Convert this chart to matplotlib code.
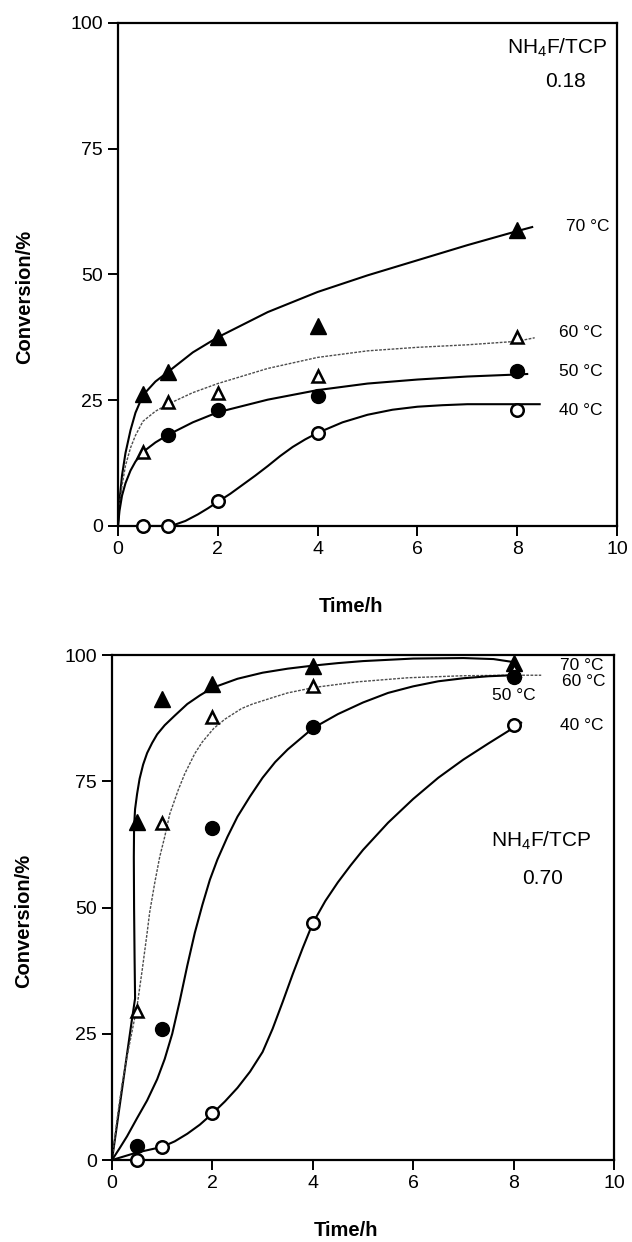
import matplotlib
matplotlib.use("Agg")
import matplotlib.pyplot as plt

plt.rcParams['font.family'] = ['Liberation Sans', 'DejaVu Sans']
plt.rcParams['mathtext.fontset'] = 'custom'
plt.rcParams['mathtext.rm'] = 'Liberation Sans'
plt.rcParams['mathtext.it'] = 'Liberation Sans'

times = [0.5, 1, 2, 4, 8]

# --- top panel, NH4F/TCP = 0.18 ---
top_70 = [26.2, 30.5, 37.5, 39.7, 58.8]
top_60 = [14.7, 24.6, 26.5, 29.8, 37.6]
top_50_t = [1, 2, 4, 8]
top_50 = [18.1, 23.0, 25.9, 30.7]
top_40 = [0, 0, 5.0, 18.5, 23.1]

# fitted curves
top_c70_x = [0, 0.03, 0.08, 0.15, 0.25, 0.35, 0.5, 0.75, 1.0, 1.5, 2.0, 3.0, 4.0, 5.0, 6.0, 7.0, 8.0, 8.3]
top_c70_y = [0, 5, 10, 14.5, 19, 22.5, 26, 28.7, 30.6, 34.5, 37.5, 42.5, 46.5, 49.8, 52.8, 55.8, 58.6, 59.4]
top_c60_x = [0, 0.03, 0.08, 0.15, 0.25, 0.35, 0.5, 0.75, 1.0, 1.5, 2.0, 3.0, 4.0, 5.0, 6.0, 7.0, 8.0, 8.35]
top_c60_y = [0, 4, 8, 12, 15.5, 18, 20.8, 22.8, 24.2, 26.5, 28.3, 31.3, 33.5, 34.8, 35.5, 36.0, 36.7, 37.4]
top_c50_x = [0, 0.03, 0.08, 0.15, 0.25, 0.35, 0.5, 0.75, 1.0, 1.5, 2.0, 3.0, 4.0, 5.0, 6.0, 7.0, 8.0, 8.2]
top_c50_y = [0, 3, 6, 8.5, 11, 12.8, 14.7, 16.6, 18.1, 20.6, 22.6, 25.1, 27.0, 28.3, 29.1, 29.7, 30.1, 30.2]
top_c40_x = [0.5, 1.0, 1.15, 1.35, 1.6, 1.8, 2.0, 2.25, 2.5, 2.75, 3.0, 3.25, 3.5, 3.75, 4.0,
             4.5, 5.0, 5.5, 6.0, 6.5, 7.0, 8.0, 8.45]
top_c40_y = [0, 0, 0.3, 1.0, 2.3, 3.5, 4.8, 6.4, 8.2, 10.0, 11.9, 13.9, 15.7, 17.2, 18.5,
             20.6, 22.1, 23.1, 23.7, 24.0, 24.2, 24.2, 24.2]

# --- bottom panel, NH4F/TCP = 0.70 ---
bot_70 = [67.0, 91.3, 94.2, 97.8, 98.5]
bot_60 = [29.5, 66.8, 87.8, 93.8, 97.0]
bot_50 = [2.8, 25.9, 65.7, 85.8, 95.7]
bot_40 = [0, 2.6, 9.4, 46.9, 86.2]

bot_c70_x = [0, 0.1, 0.2, 0.3, 0.4, 0.46, 0.45, 0.44, 0.435, 0.44, 0.46, 0.5, 0.55, 0.62, 0.7,
             0.8, 0.9, 1.05, 1.25, 1.5, 1.75, 2.0, 2.5, 3.0, 3.5, 4.0, 4.5, 5.0, 6.0, 7.0, 7.6, 8.0]
bot_c70_y = [0, 7, 14, 21, 28, 32, 40, 50, 60, 66, 69.5, 72.5, 75.5, 78.3, 80.6,
             82.6, 84.3, 86.1, 88.0, 90.3, 92.0, 93.5, 95.3, 96.5, 97.3, 97.9, 98.4, 98.8, 99.3, 99.4, 99.2, 98.6]
bot_c60_x = [0, 0.1, 0.2, 0.3, 0.4, 0.5, 0.6, 0.7, 0.75, 0.85, 0.95, 1.05, 1.15, 1.32, 1.45,
             1.65, 1.8, 2.03, 2.25, 2.58, 2.8, 3.24, 3.5, 4.04, 4.9, 5.9, 7.0, 8.0, 8.55]
bot_c60_y = [0, 8, 15, 20.5, 25.5, 30.5, 37.5, 45, 49, 54.8, 60, 64, 68.5, 73.3, 76.5,
             80.5, 82.8, 85.5, 87.3, 89.4, 90.3, 91.7, 92.5, 93.6, 94.7, 95.5, 95.9, 96.0, 96.0]
bot_c50_x = [0, 0.15, 0.3, 0.5, 0.7, 0.9, 1.05, 1.2, 1.35, 1.5, 1.65, 1.8, 1.95, 2.1, 2.3, 2.5,
             2.75, 3.0, 3.25, 3.5, 4.0, 4.5, 5.0, 5.5, 6.0, 6.5, 7.0, 7.5, 8.0]
bot_c50_y = [0, 2.3, 4.7, 8.3, 11.8, 16.0, 20.0, 25.0, 31.5, 38.5, 45.0, 50.5, 55.5, 59.5, 64.0, 68.0,
             72.0, 75.7, 78.8, 81.3, 85.5, 88.3, 90.6, 92.5, 93.8, 94.8, 95.4, 95.8, 96.0]
bot_c40_x = [0, 0.5, 1.0, 1.25, 1.5, 1.75, 2.0, 2.25, 2.5, 2.75, 3.0, 3.2, 3.4, 3.6, 3.8, 4.0,
             4.25, 4.5, 4.75, 5.0, 5.5, 6.0, 6.5, 7.0, 7.5, 8.0, 8.15]
bot_c40_y = [0, 1.5, 2.6, 3.7, 5.2, 7.0, 9.2, 11.6, 14.3, 17.5, 21.4, 26.0, 31.3, 36.8, 42.0, 46.9,
             51.3, 55.0, 58.3, 61.4, 66.8, 71.5, 75.7, 79.3, 82.5, 85.6, 86.6]

xticks = [0, 2, 4, 6, 8, 10]
yticks = [0, 25, 50, 75, 100]


def style_axes(ax, xlab_y, ylab_x, ylab_y):
    ax.set_xlim(0, 10)
    ax.set_ylim(0, 100)
    ax.set_xticks(xticks)
    ax.set_yticks(yticks)
    ax.tick_params(direction='out', length=7, width=1.4, labelsize=14, pad=4)
    for s in ax.spines.values():
        s.set_linewidth(1.6)
    ax.set_xlabel('Time/h', fontsize=14.5, fontweight='bold')
    ax.set_ylabel('Conversion/%', fontsize=14.5, fontweight='bold')
    ax.xaxis.set_label_coords(0.467, xlab_y)
    ax.yaxis.set_label_coords(ylab_x, ylab_y)


def draw(ax, t40, y40, t50, y50, t60, y60, t70, y70, curves):
    c70, c60, c50, c40 = curves
    ax.plot(*c70, color='black', lw=1.5)
    ax.plot(*c60, color='0.3', lw=1.0, ls=(0, (2, 1)))
    ax.plot(*c50, color='black', lw=1.5)
    ax.plot(*c40, color='black', lw=1.5)
    kw = dict(ls='none', clip_on=False, zorder=5)
    ax.plot(t70, y70, marker='^', ms=11, mfc='black', mec='black', **kw)
    ax.plot(t60, y60, marker='^', ms=9, mfc='white', mec='black', mew=1.8, **kw)
    ax.plot(t50, y50, marker='o', ms=10, mfc='black', mec='black', **kw)
    ax.plot(t40, y40, marker='o', ms=9, mfc='white', mec='black', mew=1.8, **kw)


fig = plt.figure(figsize=(6.32, 12.42), dpi=100)

ax1 = fig.add_axes([0.1867, 0.5765, 0.7896, 0.4052])
draw(ax1, times, top_40, top_50_t, top_50, times, top_60, times, top_70,
     [(top_c70_x, top_c70_y), (top_c60_x, top_c60_y), (top_c50_x, top_c50_y), (top_c40_x, top_c40_y)])
style_axes(ax1, -0.142, -0.168, 0.455)
ax1.text(8.80, 95.0, r'NH$_4$F/TCP', fontsize=15, ha='center', va='center')
ax1.text(8.96, 88.3, '0.18', fontsize=15, ha='center', va='center')
ax1.text(8.98, 59.6, '70 °C', fontsize=12.5, ha='left', va='center')
ax1.text(8.84, 38.4, '60 °C', fontsize=12.5, ha='left', va='center')
ax1.text(8.84, 30.7, '50 °C', fontsize=12.5, ha='left', va='center')
ax1.text(8.84, 22.9, '40 °C', fontsize=12.5, ha='left', va='center')

ax2 = fig.add_axes([0.1772, 0.0660, 0.7943, 0.4066])
draw(ax2, times, bot_40, times, bot_50, times, bot_60, times, bot_70,
     [(bot_c70_x, bot_c70_y), (bot_c60_x, bot_c60_y), (bot_c50_x, bot_c50_y), (bot_c40_x, bot_c40_y)])
style_axes(ax2, -0.120, -0.157, 0.473)
ax2.text(8.55, 63.2, r'NH$_4$F/TCP', fontsize=15, ha='center', va='center')
ax2.text(8.57, 55.7, '0.70', fontsize=15, ha='center', va='center')
ax2.text(8.92, 97.9, '70 °C', fontsize=12.5, ha='left', va='center')
ax2.text(8.96, 94.7, '60 °C', fontsize=12.5, ha='left', va='center')
ax2.text(7.56, 91.9, '50 °C', fontsize=12.5, ha='left', va='center')
ax2.text(8.92, 86.1, '40 °C', fontsize=12.5, ha='left', va='center')

fig.savefig('out.png', dpi=100)
